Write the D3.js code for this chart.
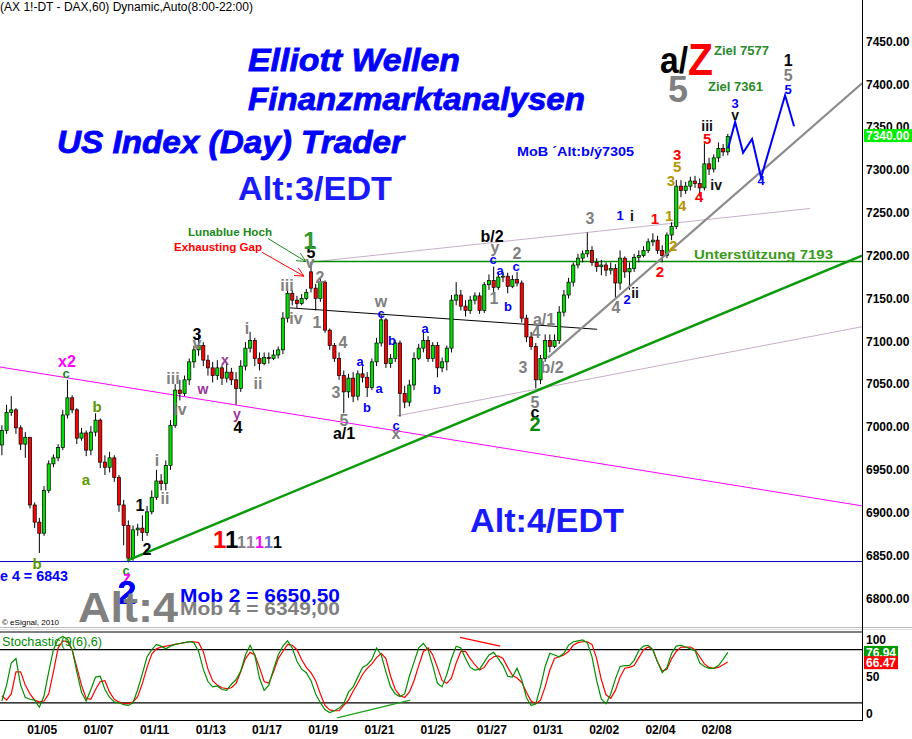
<!DOCTYPE html>
<html>
<head>
<meta charset="utf-8">
<script src="https://cdn.jsdelivr.net/npm/d3@7"></script>
<style>
  body { margin: 0; background: #fff; }
  svg text { font-family: Arial, "Liberation Sans", sans-serif; }
</style>
</head>
<body>
<svg width="912" height="739"></svg>
<script>
// trading days shown on the chart (60 min bars, 8:00-22:00)
var days = ["01/03","01/04","01/05","01/06","01/07","01/10","01/11","01/12","01/13","01/14",
            "01/17","01/18","01/19","01/20","01/21","01/24","01/25","01/26","01/27","01/28",
            "01/31","02/01","02/02","02/03","02/04","02/07","02/08"];
var dateTicks = ["01/05","01/07","01/11","01/13","01/17","01/19","01/21","01/25","01/27","01/31","02/02","02/04","02/08"];
var barsPerDay = 6;
var firstBar = 3;

var opens = [6979,6996,7017,7020,6999,6980,6988,6909,6889,6876,
  6926,6957,6964,6976,7014,7034,7020,6987,6993,6973,
  6994,7008,6959,6953,6964,6941,6909,6885,6847,6880,
  6882,6877,6901,6918,6937,6934,6955,7002,7043,7039,
  7055,7076,7090,7095,7078,7069,7060,7069,7057,7064,
  7055,7045,7071,7092,7101,7080,7074,7081,7080,7084,
  7090,7127,7156,7148,7144,7150,7181,7162,7150,7169,
  7113,7095,7080,7060,7041,7057,7036,7062,7058,7046,
  7076,7098,7125,7074,7080,7098,7039,7029,7049,7080,
  7092,7101,7080,7095,7069,7076,7092,7148,7154,7141,
  7136,7148,7153,7136,7166,7171,7163,7175,7176,7164,
  7172,7168,7127,7105,7094,7055,7080,7101,7094,7101,
  7134,7154,7169,7189,7197,7202,7206,7192,7187,7189,
  7183,7185,7168,7197,7181,7185,7198,7200,7206,7216,
  7218,7206,7200,7224,7234,7281,7276,7281,7287,7284,
  7279,7307,7301,7314,7325,7321];
var highs = [7002,7026,7036,7022,7002,6994,6988,6912,6894,6931,
  6961,6968,6980,7020,7055,7037,7022,6999,6996,7001,
  7016,7010,6967,6971,6967,6944,6915,6891,6885,6887,
  6897,6908,6926,6950,6945,6961,7008,7050,7055,7060,
  7080,7095,7107,7099,7084,7076,7078,7072,7076,7069,
  7064,7078,7099,7111,7104,7087,7087,7087,7090,7094,
  7134,7161,7160,7153,7155,7161,7192,7167,7175,7171,
  7115,7098,7087,7066,7062,7064,7066,7071,7064,7080,
  7104,7131,7127,7085,7101,7101,7048,7055,7087,7097,
  7111,7106,7099,7099,7081,7095,7154,7169,7160,7148,
  7153,7157,7157,7169,7178,7187,7180,7181,7180,7177,
  7181,7171,7131,7111,7098,7084,7108,7108,7108,7141,
  7160,7174,7192,7202,7206,7227,7211,7197,7195,7192,
  7192,7190,7206,7199,7192,7202,7206,7211,7220,7226,
  7223,7212,7227,7239,7288,7288,7286,7292,7293,7290,
  7331,7314,7318,7332,7330,7342];
var lows = [6967,6992,7013,6992,6973,6964,6905,6882,6853,6873,
  6923,6953,6960,6973,7010,7016,6980,6984,6966,6967,
  6989,6952,6944,6947,6936,6901,6862,6842,6844,6873,
  6867,6873,6898,6915,6926,6926,6950,6999,7031,7036,
  7049,7069,7083,7071,7060,7052,7055,7049,7052,7049,
  7026,7041,7066,7087,7071,7066,7072,7074,7078,7080,
  7085,7122,7142,7139,7142,7148,7157,7136,7146,7110,
  7090,7076,7055,7016,7034,7029,7031,7052,7035,7043,
  7071,7094,7069,7069,7076,7012,7022,7024,7043,7078,
  7087,7076,7076,7058,7064,7066,7087,7142,7136,7129,
  7132,7143,7132,7133,7160,7157,7160,7169,7156,7162,
  7164,7122,7099,7090,7045,7050,7076,7087,7092,7097,
  7129,7150,7164,7185,7192,7198,7188,7181,7177,7176,
  7178,7151,7160,7174,7160,7181,7192,7198,7203,7211,
  7202,7192,7197,7218,7231,7268,7272,7276,7279,7269,
  7276,7294,7297,7309,7316,7317];
var closes = [6996,7017,7020,6999,6980,6988,6909,6889,6876,6926,
  6957,6964,6976,7014,7034,7020,6987,6993,6973,6994,
  7008,6959,6953,6964,6941,6909,6885,6847,6880,6882,
  6877,6901,6918,6937,6934,6955,7002,7043,7039,7055,
  7076,7090,7095,7078,7069,7060,7069,7057,7064,7055,
  7045,7071,7092,7101,7080,7074,7081,7080,7084,7090,
  7127,7156,7148,7144,7150,7157,7162,7150,7169,7113,
  7095,7080,7060,7041,7057,7036,7062,7058,7046,7076,
  7098,7125,7074,7080,7098,7039,7029,7049,7080,7092,
  7101,7080,7095,7069,7076,7092,7148,7154,7141,7136,
  7148,7153,7136,7166,7171,7163,7175,7176,7164,7172,
  7168,7127,7105,7094,7055,7080,7101,7094,7101,7134,
  7154,7169,7189,7197,7202,7206,7192,7187,7189,7183,
  7185,7168,7197,7181,7185,7198,7200,7206,7216,7218,
  7206,7200,7224,7234,7281,7276,7281,7287,7284,7279,
  7307,7301,7314,7325,7321,7339];

// Stochastic(9(6),6)
var stochK = [22,40,65,70,40,26,24,23,15,28,
  55,80,92,95,92,80,55,32,22,35,
  49,50,35,26,21,20,18,17,20,35,
  53,72,80,86,84,81,84,86,87,88,
  89,88,78,58,44,38,39,35,34,41,
  46,56,74,85,74,48,34,40,58,74,
  84,90,82,67,58,54,45,30,20,12,
  9,11,14,19,32,38,49,60,63,69,
  82,74,55,38,30,27,30,50,66,82,
  87,80,62,42,38,52,70,84,82,70,
  60,57,58,66,74,77,70,62,50,49,
  59,46,26,17,19,38,61,76,74,72,
  76,85,89,90,91,88,72,45,24,19,
  30,47,61,62,62,68,79,84,85,80,
  66,54,60,76,84,85,83,81,79,65,
  61,59,59,62,69,77];
var stochD = [28,23,30,55,55,40,30,23,21,22,
  30,55,82,90,89,80,60,40,25,24,
  35,44,45,32,24,21,19,19,21,27,
  42,60,75,81,83,84,85,86,87,88,
  89,89,88,78,58,45,40,37,36,37,
  42,55,70,77,74,60,44,42,55,70,
  78,86,85,80,69,60,54,45,30,17,
  12,11,11,17,23,33,42,52,59,64,
  71,76,70,50,35,28,26,32,45,62,
  78,82,74,60,45,42,48,65,78,78,
  70,63,57,60,68,72,73,70,60,51,
  48,43,32,22,19,23,38,57,70,72,
  74,78,85,88,89,89,86,70,46,29,
  25,34,49,59,60,62,71,80,83,80,
  66,56,58,70,78,83,83,83,80,72,
  64,60,59,60,63,66];
var lastPrice = 7340, lastK = 76.94, lastD = 66.47;

// levels and trend lines: [bar, price]
var supportLevel = 7193, supportFrom = 69.9;
var wave4Level = 6843;
var greenTrend = [[30.22, 6844], [187.17, 7200]];
var grayTrend = [[120.1, 7081], [187.17, 7401]];
var magentaTrend = [[3.1, 7070], [187.17, 6908]];
var blackTrend = [[65.0, 7139], [130.6, 7114]];
var upperChannel = [[68.9, 7192], [176.1, 7255]];
var lowerChannel = [[87.9, 7013], [187.17, 7117]];
var projection = [[158.55, 7325], [160.06, 7356], [161.76, 7320], [163.68, 7336], [165.6, 7291], [170.73, 7387], [172.65, 7351]];
var kDivergence = [[75.1, 3], [90.7, 23]];
var dDivergence = [[101.3, 94], [109.9, 84]];
var gapArrows = [[[60.3, 7220], [68.4, 7193]], [[59.0, 7204], [68.0, 7176]]];

// wave counts: [bar, price, label]
var grayWaves = [[36.62,6961,"i"],[38.33,6917,"ii"],[40.04,7057,"iii"],[41.53,7020,"iv"],[45.16,7098,"v"],
  [55.84,7115,"i"],[58.19,7051,"ii"],[64.38,7165,"iii"],[66.30,7127,"iv"],[69.29,7192,"v"],
  [71.43,7174,"2"],[70.79,7122,"1"],[76.34,7099,"4"],[74.84,7040,"3"],[76.55,7008,"5"],
  [84.46,7146,"w"],[87.66,6992,"x"],[108.80,7210,"y"],[108.59,7150,"1"],[113.50,7202,"2"],
  [119.26,7125,"a/1"],[117.55,7110,"4"],[114.77,7069,"3"],[120.97,7070,"b/2"],[117.34,7029,"5"],
  [129.08,7243,"3"],[134.63,7139,"4"],[171.37,7410,"5"]];
var blackWaves = [[45.16,7108,"3"],[53.92,7000,"4"],[69.51,7204,"5"],[76.55,6992,"a/1"],[108.16,7222,"b/2"],
  [117.34,7017,"c"],[32.99,6908,"1"],[34.49,6857,"2"],[171.37,7428,"1"]];
var blackMinor = [[138.05,7246,"i"],[154.08,7351,"iii"],[156.01,7282,"iv"],[160.06,7364,"v"],[138.69,7156,"ii"]];
var blueWaves = [[79.97,7077,"a"],[81.47,7023,"b"],[84.46,7133,"c"],[84.03,7045,"a"],[86.81,7101,"b"],
  [87.66,7002,"c"],[93.85,7115,"a"],[96.41,7044,"b"],[108.37,7196,"c"],[109.87,7183,"a"],
  [111.57,7141,"b"],[113.28,7187,"c"],[135.49,7247,"1"],[136.98,7149,"2"],[160.06,7377,"3"],
  [165.61,7288,"4"],[171.37,7394,"5"]];
var purpleWaves = [[46.44,7044,"w"],[51.14,7078,"x"],[53.70,7015,"y"]];
var redWaves = [[142.96,7243,"1"],[144.03,7181,"2"],[147.67,7318,"3"],[152.37,7269,"4"],[154.08,7336,"5"]];
var goldWaves = [[145.96,7246,"1"],[146.81,7211,"2"],[146.38,7287,"3"],[147.67,7304,"5"],[148.74,7258,"4"]];
var oliveWaves = [[23.81,7024,"b"],[21.46,6938,"a"],[11.00,6841,"b"]];
var greenSmall = [[17.19,7063,"c"],[30.00,6833,"c"]];
var magentaWaves = [[17.40,7076,"x2"],[30.22,6824,"z"]];
var bigGreen1 = [[69.29,7218,"1"]];
var bigGreen2 = [[117.34,7003,"2"]];
var bigBlue2 = [[30.22,6807,"2"]];

var svg = d3.select("svg"),
    plotW = 862,
    priceH = 620;

var x = d3.scaleLinear().domain([0, days.length * barsPerDay]).range([-14.5, 744.2]);
var y = d3.scaleLinear().domain([6774.8, 7498.2]).range([priceH, 0]);
var ys = d3.scaleLinear().domain([0, 100]).range([720.5, 632]);

var font = "Arial, 'Liberation Sans', sans-serif";

svg.append("defs").append("clipPath").attr("id", "clipPrice")
  .append("rect").attr("x", 0).attr("y", 0).attr("width", plotW).attr("height", priceH);
svg.append("defs").append("clipPath").attr("id", "clipStoch")
  .append("rect").attr("x", 0).attr("y", 632).attr("width", plotW).attr("height", 89);

var g = svg.append("g").attr("clip-path", "url(#clipPrice)");
var line = d3.line().x(function(d) { return x(d[0]); }).y(function(d) { return y(d[1]); });

// thin lines behind the candles
function addLine(pts, color, w) {
  g.append("path").attr("d", line(pts)).attr("fill", "none").attr("stroke", color).attr("stroke-width", w);
}
addLine(upperChannel, "#c9aec9", 1);
addLine(lowerChannel, "#c9aec9", 1);
addLine(magentaTrend, "#ff00ff", 1);
addLine(blackTrend, "#000", 1);
addLine([[supportFrom, supportLevel], [200, supportLevel]], "#008a00", 1.5);
g.append("line").attr("x1", 0).attr("x2", plotW).attr("y1", y(wave4Level)).attr("y2", y(wave4Level))
  .attr("stroke", "#0000c8").attr("stroke-width", 1);

// candles
var bars = closes.map(function(c, k) {
  return {u: firstBar + k + 0.5, o: opens[k], h: highs[k], l: lows[k], c: c};
});
var bw = 3.2;
var cg = g.append("g");
cg.selectAll("line.wick").data(bars).enter().append("line")
  .attr("class", "wick")
  .attr("x1", function(d) { return x(d.u); }).attr("x2", function(d) { return x(d.u); })
  .attr("y1", function(d) { return y(d.h); }).attr("y2", function(d) { return y(d.l); })
  .attr("stroke", "#000").attr("stroke-width", 1);
cg.selectAll("rect.body").data(bars).enter().append("rect")
  .attr("class", "body")
  .attr("x", function(d) { return x(d.u) - bw / 2; })
  .attr("y", function(d) { return y(Math.max(d.o, d.c)); })
  .attr("width", bw)
  .attr("height", function(d) { return Math.max(1, Math.abs(y(d.o) - y(d.c))); })
  .attr("fill", function(d) { return d.c >= d.o ? "#00e000" : "#ff0000"; })
  .attr("stroke", "#000").attr("stroke-width", 0.7);

// main trend lines
addLine(greenTrend, "#0a9a0a", 2.5);
addLine(grayTrend, "#8c8c8c", 2.2);
addLine(projection, "#0000ff", 2);

// arrows to the exhaustion high
var arrowColors = ["#1a8a1a", "#ff0000"];
gapArrows.forEach(function(a, k) {
  var x1 = x(a[0][0]), y1 = y(a[0][1]), x2 = x(a[1][0]), y2 = y(a[1][1]);
  var ang = Math.atan2(y2 - y1, x2 - x1);
  g.append("line").attr("x1", x1).attr("y1", y1).attr("x2", x2).attr("y2", y2)
    .attr("stroke", arrowColors[k]).attr("stroke-width", 1);
  [0.45, -0.45].forEach(function(da) {
    g.append("line").attr("x1", x2).attr("y1", y2)
      .attr("x2", x2 - 10 * Math.cos(ang + da)).attr("y2", y2 - 10 * Math.sin(ang + da))
      .attr("stroke", arrowColors[k]).attr("stroke-width", 1);
  });
});

// wave labels
var waveStyles = [
  {data: grayWaves, color: "#808080", size: 16},
  {data: blackWaves, color: "#000", size: 16},
  {data: blackMinor, color: "#111", size: 14},
  {data: blueWaves, color: "#0000ff", size: 13},
  {data: purpleWaves, color: "#993399", size: 14},
  {data: redWaves, color: "#ff0000", size: 15},
  {data: goldWaves, color: "#b89400", size: 15},
  {data: oliveWaves, color: "#5a9a00", size: 15},
  {data: greenSmall, color: "#1a8a1a", size: 13},
  {data: magentaWaves, color: "#ff00ff", size: 16},
  {data: bigGreen1, color: "#2e9a2e", size: 24},
  {data: bigGreen2, color: "#0a8a0a", size: 20},
  {data: bigBlue2, color: "#0000ff", size: 34}
];
var lg = svg.append("g");
waveStyles.forEach(function(s) {
  lg.append("g").selectAll("text").data(s.data).enter().append("text")
    .attr("x", function(d) { return x(d[0]); })
    .attr("y", function(d) { return y(d[1]); })
    .attr("dy", "0.35em")
    .attr("text-anchor", "middle")
    .attr("font-size", s.size).attr("font-weight", "bold")
    .attr("fill", s.color)
    .text(function(d) { return d[2]; });
});

// free text annotations
function txt(str, px, py, opt) {
  var t = svg.append("text").attr("x", px).attr("y", py)
    .attr("font-size", opt.size).attr("font-weight", opt.weight || "bold")
    .attr("fill", opt.color || "#000").text(str);
  if (opt.italic) t.attr("font-style", "italic");
  if (opt.len) t.attr("textLength", opt.len).attr("lengthAdjust", "spacingAndGlyphs");
  if (opt.stroke) t.attr("stroke", opt.color).attr("stroke-width", opt.stroke);
  if (opt.anchor) t.attr("text-anchor", opt.anchor);
  return t;
}
txt("(AX 1!-DT - DAX,60) Dynamic,Auto(8:00-22:00)", 0, 11, {size: 12, weight: "normal", len: 253});
txt("Elliott Wellen", 248, 71, {size: 32, italic: true, color: "#0000ff", len: 212, stroke: 0.8});
txt("Finanzmarktanalysen", 248, 110, {size: 32, italic: true, color: "#0000ff", len: 337, stroke: 0.8});
txt("US Index (Day) Trader", 57, 153, {size: 31, italic: true, color: "#0000ff", len: 347, stroke: 0.8});
txt("Alt:3/EDT", 238, 200, {size: 34, color: "#1a1aff", len: 154});
txt("Alt:4/EDT", 470, 532, {size: 34, color: "#1a1aff", len: 154});
txt("a/", 660, 73, {size: 36, color: "#000", len: 28});
txt("Z", 688, 75, {size: 44, color: "#ff0000", len: 25});
txt("5", 678, 102, {size: 36, color: "#808080", anchor: "middle"});
txt("Ziel 7577", 714, 55, {size: 12, color: "#2a8a2a", len: 55});
txt("Ziel 7361", 708, 91, {size: 12, color: "#2a8a2a", len: 55});
txt("MoB \u00B4Alt:b/\u00FD7305", 517, 156, {size: 13, color: "#0000ff", len: 117});
txt("Lunablue Hoch", 188, 236, {size: 11, color: "#1a8a1a", len: 84});
txt("Exhausting Gap", 174, 251, {size: 11, color: "#ff0000", len: 88});
txt("Unterst\u00FCtzung 7193", 694, 259, {size: 12, color: "#3a9a1a", len: 139});
txt("e 4 = 6843", 0, 581, {size: 14, color: "#0000ff", len: 68});
txt("Alt:4", 78, 622, {size: 42, color: "#808080", len: 100});
// redraw the big blue 2 on top of Alt:4
lg.append("text").attr("x", x(bigBlue2[0][0])).attr("y", y(bigBlue2[0][1])).attr("dy", "0.35em")
  .attr("text-anchor", "middle").attr("font-size", 34).attr("font-weight", "bold")
  .attr("fill", "#0000ff").text(bigBlue2[0][2]);
txt("Mob 2 = 6650,50", 180, 602, {size: 19, color: "#0000ff", len: 160});
txt("Mob 4 = 6349,00", 180, 615, {size: 19, color: "#808080", len: 160});
txt("\u00A9 eSignal, 2010", 2, 625, {size: 8, weight: "normal"});

var ones = [["#ff0000", 24], ["#000", 24], ["#808080", 16], ["#9a7a9a", 16], ["#ff00ff", 16], ["#6a6ad0", 16], ["#000", 16]];
var ox = 213;
ones.forEach(function(o) {
  svg.append("text").attr("x", ox).attr("y", 548).attr("font-size", o[1]).attr("font-weight", "bold")
    .attr("fill", o[0]).text("1");
  ox += o[1] === 24 ? 12 : 9;
});

// panel separators
svg.append("line").attr("x1", 0).attr("x2", 912).attr("y1", 627.5).attr("y2", 627.5).attr("stroke", "#bbb");
svg.append("line").attr("x1", 0).attr("x2", 912).attr("y1", 629.5).attr("y2", 629.5).attr("stroke", "#ddd");

// stochastic panel
[100, 80, 20, 0].forEach(function(v) {
  svg.append("line").attr("x1", 0).attr("x2", plotW).attr("y1", ys(v)).attr("y2", ys(v))
    .attr("stroke", "#000").attr("stroke-width", 1.2);
});
var sg = svg.append("g").attr("clip-path", "url(#clipStoch)");
var sline = d3.line().x(function(d, k) { return x(firstBar + k + 0.5); }).y(function(d) { return ys(d); });
sg.append("path").attr("d", sline(stochD)).attr("fill", "none").attr("stroke", "#ff0000").attr("stroke-width", 1.2);
sg.append("path").attr("d", sline(stochK)).attr("fill", "none").attr("stroke", "#009000").attr("stroke-width", 1.2);
var dline = d3.line().x(function(d) { return x(d[0]); }).y(function(d) { return ys(d[1]); });
sg.append("path").attr("d", dline(kDivergence)).attr("stroke", "#1aa01a").attr("stroke-width", 1.2);
sg.append("path").attr("d", dline(dDivergence)).attr("stroke", "#ff0000").attr("stroke-width", 1.2);
txt("Stochastic(9(6),6)", 2, 646, {size: 12, weight: "normal", color: "#008a00", len: 100});

// right axis line
svg.append("line").attr("x1", plotW + 0.5).attr("x2", plotW + 0.5).attr("y1", 0).attr("y2", 721)
  .attr("stroke", "#000").attr("stroke-width", 1);

// price axis
var yAxis = svg.append("g").attr("transform", "translate(" + plotW + ",0)")
  .call(d3.axisRight(y).tickValues(d3.range(6800, 7451, 50)).tickFormat(d3.format(".2f")).tickSize(0).tickPadding(4));
yAxis.select(".domain").remove();
yAxis.selectAll("text").attr("font-size", 12).attr("font-weight", "bold").attr("font-family", font).attr("fill", "#000");

// stochastic axis
var sAxis = svg.append("g").attr("transform", "translate(" + plotW + ",0)")
  .call(d3.axisRight(ys).tickValues([0, 50, 100]).tickSize(0).tickPadding(4));
sAxis.select(".domain").remove();
sAxis.selectAll("text").attr("font-size", 12).attr("font-weight", "bold").attr("font-family", font).attr("fill", "#000")
  .attr("dy", function(d) { return d === 100 ? "0.95em" : d === 0 ? "-0.25em" : "0.32em"; });

// last value boxes
function valueBox(val, py, bg, fmt) {
  svg.append("rect").attr("x", 864).attr("y", py - 6.5).attr("width", fmt === 2 && val > 1000 ? 48 : 34).attr("height", 13).attr("fill", bg);
  svg.append("text").attr("x", 866).attr("y", py).attr("dy", "0.35em")
    .attr("font-size", 12).attr("font-weight", "bold").attr("fill", "#fff").text(val.toFixed(2));
}
valueBox(lastPrice, y(lastPrice), "#00ee00", 2);
valueBox(lastK, ys(lastK), "#009900", 2);
valueBox(lastD, ys(lastD) + 1, "#ff0000", 2);

// date axis
var xAxis = svg.append("g").attr("transform", "translate(0,722)")
  .call(d3.axisBottom(x)
    .tickValues(dateTicks.map(function(d) { return days.indexOf(d) * barsPerDay; }))
    .tickFormat(function(u) { return days[u / barsPerDay]; })
    .tickSize(0).tickPadding(3));
xAxis.select(".domain").remove();
xAxis.selectAll("text").attr("font-size", 12).attr("font-weight", "bold").attr("font-family", font).attr("fill", "#000");
</script>
</body>
</html>
